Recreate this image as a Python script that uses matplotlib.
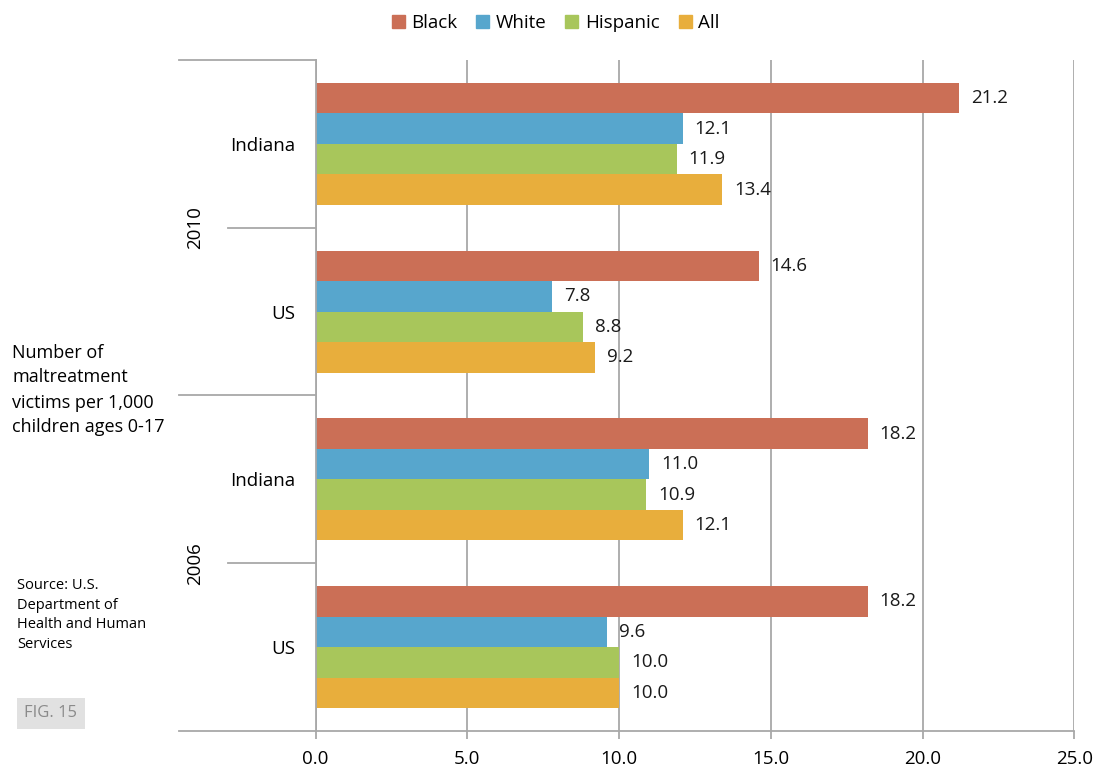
import matplotlib.pyplot as plt
from matplotlib.patches import Patch
import numpy as np

plt.rcParams['font.family'] = ['Open Sans', 'DejaVu Sans']

# rows top to bottom
places = ['Indiana', 'US', 'Indiana', 'US']
years = ['2010', '2006']
series = ['Black', 'White', 'Hispanic', 'All']
black = [21.2, 14.6, 18.2, 18.2]
white = [12.1, 7.8, 11.0, 9.6]
hispanic = [11.9, 8.8, 10.9, 10.0]
all_races = [13.4, 9.2, 12.1, 10.0]
x_ticks = [0, 5, 10, 15, 20, 25]

colors = ['#CB6F56', '#57A6CD', '#A8C65B', '#E8AE3C']
grid_gray = '#A8A8A8'

fig = plt.figure(figsize=(10.98, 7.71), dpi=100)
ax = fig.add_axes([0.2875, 0.0519, 0.6909, 0.8703])

centers = np.array([3.5, 2.5, 1.5, 0.5])
h = 0.182
offsets = [1.5 * h, 0.5 * h, -0.5 * h, -1.5 * h]

for vals, off, c in zip([black, white, hispanic, all_races], offsets, colors):
    bars = ax.barh(centers + off, vals, height=h, color=c, zorder=2)
    ax.bar_label(bars, fmt='%.1f', padding=8.5, fontsize=13.5, color='#1a1a1a')

ax.set_xlim(0, 25)
ax.set_ylim(0, 4)
ax.set_xticks(x_ticks)
ax.set_xticklabels([f'{t:.1f}' for t in x_ticks], fontsize=13.5)
ax.tick_params(axis='x', length=6, width=1.3, color=grid_gray, pad=8)
ax.set_yticks(centers)
ax.set_yticklabels(places, fontsize=13.5)
ax.tick_params(axis='y', length=0, pad=15)

ax.xaxis.grid(True, color=grid_gray, lw=1.3)
ax.set_axisbelow(True)
for s in ['top', 'right']:
    ax.spines[s].set_visible(False)
for s in ['left', 'bottom']:
    ax.spines[s].set_color(grid_gray)
    ax.spines[s].set_linewidth(1.3)

# category separators on the left
ytr = ax.get_yaxis_transform()
for yb, x0 in [(4, -0.18), (3, -0.116), (2, -0.18), (1, -0.116), (0, -0.18)]:
    ax.plot([x0, 0], [yb, yb], color=grid_gray, lw=1.3, transform=ytr, clip_on=False)

for yr, yb in zip(years, [3, 1]):
    ax.text(-0.159, yb, yr, rotation=90, transform=ytr, ha='center', va='center', fontsize=13.5)

handles = [Patch(color=c, label=s) for c, s in zip(colors, series)]
fig.legend(handles=handles, loc='upper center', bbox_to_anchor=(0.506, 1.004), ncol=4,
           frameon=False, fontsize=13.5, handlelength=0.7, handleheight=0.7,
           handletextpad=0.35, columnspacing=1.0)

fig.text(12 / 1098, 1 - 390 / 771, 'Number of\nmaltreatment\nvictims per 1,000\nchildren ages 0-17',
         fontsize=13, va='center', ha='left', linespacing=1.5)
fig.text(17 / 1098, 1 - 615 / 771, 'Source: U.S.\nDepartment of\nHealth and Human\nServices',
         fontsize=10.5, va='center', ha='left', linespacing=1.45)
fig.text(51 / 1098, 1 - 713 / 771, 'FIG. 15', fontsize=12, color='#8a8a8a', ha='center', va='center',
         bbox=dict(boxstyle='square,pad=0.45', fc='#E1E1E1', ec='none'))

fig.savefig('out.png', dpi=100)
